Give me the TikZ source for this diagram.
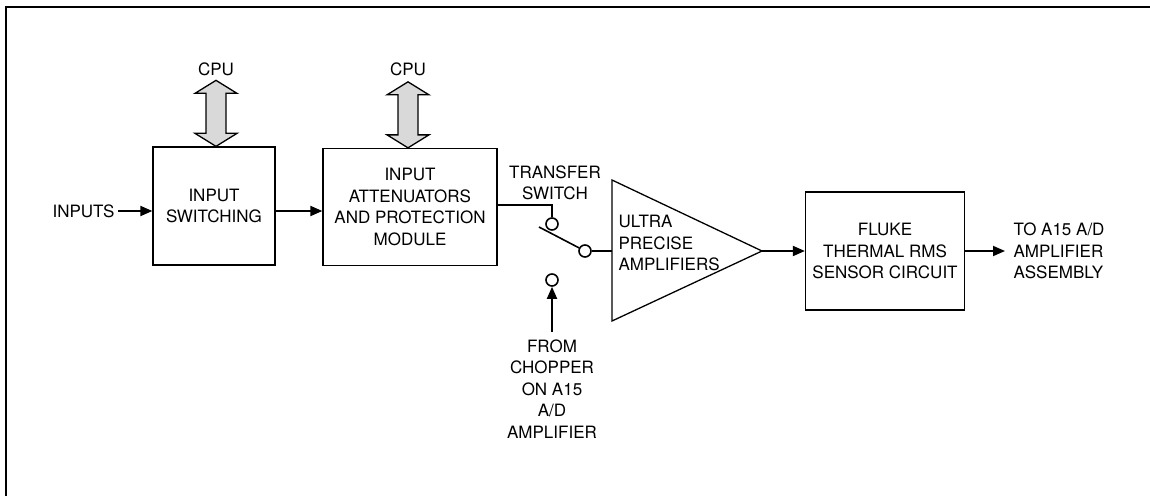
\documentclass[tikz,border=0pt]{standalone}
\usepackage{fontspec}
\setmainfont{TeX Gyre Heros}
\usepackage{tikz}
\usetikzlibrary{arrows.meta,calc,positioning}

\begin{document}
\begin{tikzpicture}[x=1pt, y=1pt,
    every node/.style={font=\fontsize{17}{21.5}\selectfont, align=center},
    block/.style={draw, line width=1.3pt, inner sep=0pt},
    wire/.style={line width=1.6pt},
    sig/.style={line width=1.8pt, -{Triangle[length=12pt, width=10pt]}},
    contact/.style={circle, draw, line width=1.6pt, fill=white, minimum size=12pt, inner sep=0pt},
    cpubus/.pic={
        \draw[line width=1.3pt, fill=gray!30] (0,0) -- (21,13) -- (10,13) -- (10,53) -- (21,53)
            -- (0,66) -- (-21,53) -- (-10,53) -- (-10,13) -- (-21,13) -- cycle;
    }]
    \useasboundingbox (0,0) rectangle (1150,499);
    % Draw frame
    \draw[line width=1.2pt] (6,3) -- (6,492) -- (1150,492);
    % Draw blocks
    \node[block, minimum width=122pt, minimum height=118pt] (sw) at (214,293) {INPUT\\SWITCHING};
    \node[block, minimum width=174pt, minimum height=117pt] (att) at (410,292)
        {INPUT\\ATTENUATORS\\AND PROTECTION\\MODULE};
    \node[block, minimum width=159pt, minimum height=118pt] (rms) at (885,248)
        {FLUKE\\THERMAL RMS\\SENSOR CIRCUIT};
    % Draw amplifier
    \coordinate (ampin) at (612,248);
    \coordinate (amptip) at (762,248);
    \draw[line width=1.3pt] (612,319) -- (amptip) -- (612,178) -- cycle;
    \node[anchor=west, align=left] (amplbl) at (615,256) {ULTRA\\PRECISE\\AMPLIFIERS};
    % CPU buses
    \pic at ($(sw.north)+(2,0)$) {cpubus};
    \pic at ($(att.north)+(-2,0)$) {cpubus};
    \node (cpu1) at (216,430) {CPU};
    \node (cpu2) at (408,430) {CPU};
    % Inputs
    \node[anchor=east] (in) at (118,288) {INPUTS};
    \draw[sig] (in.east) -- (sw.west |- in.east);
    \draw[sig] (sw.east |- in.east) -- (att.west |- in.east);
    % Transfer switch
    \node[contact] (c1) at (552,275) {};
    \node[contact] (c2) at (585,248) {};
    \node[contact] (c3) at (552,219) {};
    \coordinate (lever) at (539,272);
    \node (xfer) at (555,316) {TRANSFER\\SWITCH};
    \draw[wire] (att.east |- 0,294) -- (c1 |- 0,294) -- (c1.north);
    \draw[wire] (lever) -- (c2);
    \draw[wire] (c2.east) -- (ampin);
    \draw[sig] (552,167) coordinate (chop) -- (c3.south);
    \node[below=4pt of chop] (choplbl) {FROM\\CHOPPER\\ON A15\\A/D\\AMPLIFIER};
    % Outputs
    \draw[sig] (amptip) -- (rms.west);
    \coordinate (out) at (1005,248);
    \draw[sig] (rms.east) -- (out);
    \node[right=5pt of out, align=left] (outlbl) {TO A15 A/D\\AMPLIFIER\\ASSEMBLY};
\end{tikzpicture}
\end{document}
